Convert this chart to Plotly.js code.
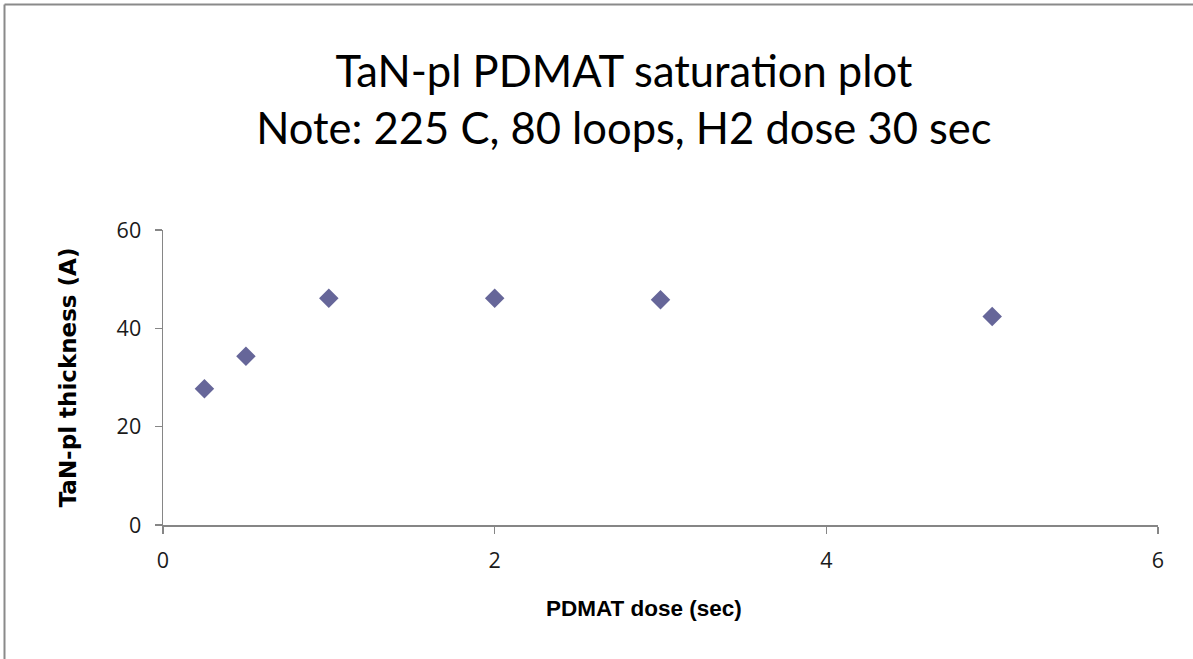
<!DOCTYPE html>
<html>
<head>
<meta charset="utf-8">
<script src="https://cdn.plot.ly/plotly-3.0.1.min.js"></script>
<style>
  html, body { margin: 0; padding: 0; background: #fff; overflow: hidden; width: 1193px; height: 659px; }
  #chart { position: absolute; left: 0; top: 0; width: 1193px; height: 659px; }
</style>
</head>
<body>
<div id="chart"></div>
<script>
const doseSec = [0.25, 0.5, 1, 2, 3, 5];
const thicknessA = [27.7, 34.3, 46.1, 46.1, 45.8, 42.4];
const xTicks = [0, 2, 4, 6];
const yTicks = [0, 20, 40, 60];
const titleLines = ["TaN-pl PDMAT saturation plot", "Note: 225 C, 80 loops, H2 dose 30 sec"];
const xTitle = 'PDMAT dose (sec)';
const yTitle = 'TaN-pl thickness (A)';

const trace = {
  x: doseSec, y: thicknessA, type: 'scatter', mode: 'markers',
  marker: { symbol: 'diamond', size: 15, color: '#666699' },
  showlegend: false, hoverinfo: 'x+y'
};

const axisCommon = {
  showgrid: false, zeroline: false, showline: true, linecolor: '#868686', linewidth: 1.5,
  ticks: 'outside', ticklen: 7, tickcolor: '#868686', tickwidth: 1.5,
  ticklabelstandoff: 9,
  tickfont: { family: 'Open Sans, sans-serif', size: 21.5, color: '#1a1a1a' }
};

const layout = {
  width: 1193, height: 659,
  paper_bgcolor: '#fff', plot_bgcolor: '#fff',
  margin: { l: 163, r: 35, t: 230, b: 134 },
  title: {
    text: titleLines.join('<br>'),
    font: { family: 'Lato, sans-serif', size: 43.5, color: '#000' },
    x: 0.523, xanchor: 'center', y: 0.868, yanchor: 'top'
  },
  xaxis: Object.assign({}, axisCommon, {
    range: [0, 6], tickvals: xTicks, ticktext: xTicks.map(String)
  }),
  yaxis: Object.assign({}, axisCommon, {
    range: [0, 60], tickvals: yTicks, ticktext: yTicks.map(String),
    title: { text: yTitle, font: { family: 'DejaVu Sans, sans-serif', size: 23, color: '#000', weight: 'bold' }, standoff: 33 }
  }),
  annotations: [{
    text: xTitle, xref: 'paper', yref: 'paper', x: 0.483, y: -0.2814,
    xanchor: 'center', yanchor: 'middle', showarrow: false,
    font: { family: 'Liberation Sans, Arial, sans-serif', size: 22.5, color: '#000', weight: 'bold' }
  }],
  shapes: [
    { type: 'line', xref: 'paper', yref: 'paper', x0: (4.5 - 163) / 995, x1: (4.5 - 163) / 995, y0: (525 - 4.5) / 295, y1: (525 - 700) / 295,
      line: { color: '#8a8a8a', width: 2 } },
    { type: 'line', xref: 'paper', yref: 'paper', x0: (4.5 - 163) / 995, x1: (1250 - 163) / 995, y0: (525 - 4.5) / 295, y1: (525 - 4.5) / 295,
      line: { color: '#8a8a8a', width: 2 } }
  ]
};

Plotly.newPlot('chart', [trace], layout, { displayModeBar: false, staticPlot: true });
</script>
</body>
</html>
